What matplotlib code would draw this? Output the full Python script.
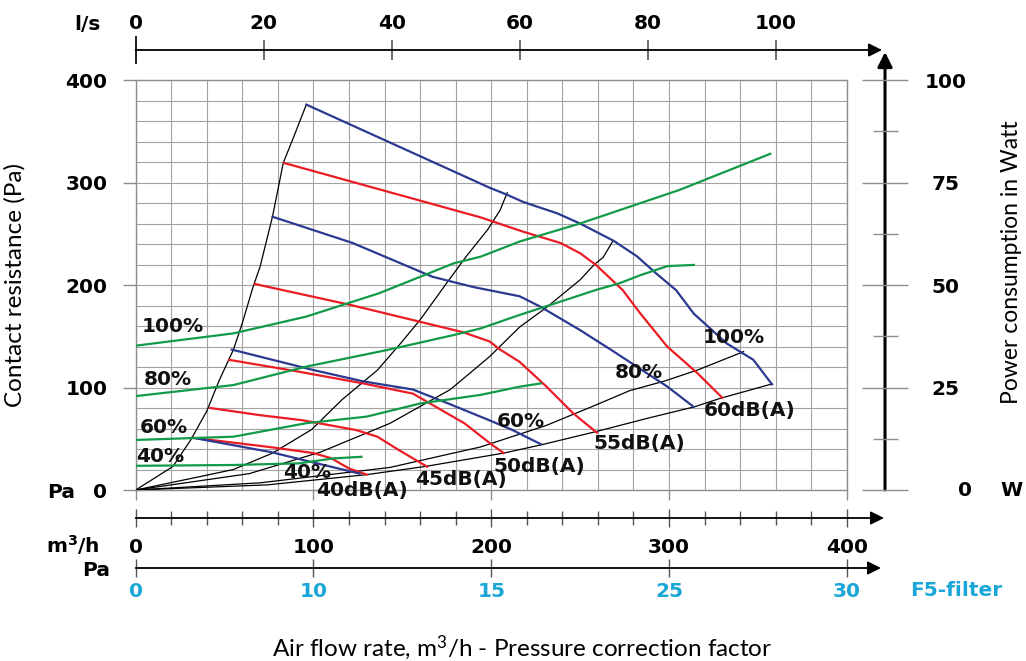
import numpy as np
import matplotlib
matplotlib.use("Agg")
import matplotlib.pyplot as plt
from matplotlib.ticker import FixedLocator

plt.rcParams['mathtext.default'] = 'regular'

# ---------------- data (x in m3/h, y in Pa, power in W) ----------------
# system curves (black)
s1_x = [0, 21, 31, 40, 47, 55, 60, 66, 70, 77, 83, 89, 96]
s1_y = [0, 23, 49, 77, 107, 137, 163, 198, 218, 267, 319, 345, 376]
s2_x = [0, 36, 55, 77, 99, 116, 136, 149, 160, 175, 186, 198, 205, 209]
s2_y = [0, 13, 20, 36, 59, 88, 117, 143, 166, 202, 228, 254, 273, 290]
s3_x = [0, 64, 104, 143, 177, 199, 216, 231, 250, 258, 263, 268.5]
s3_y = [0, 16, 37, 65, 98, 130, 159, 178, 205, 220, 227, 243]
s4_x = [0, 70, 143, 194, 231, 259, 278, 297, 316, 342]
s4_y = [0, 7, 22, 42, 63, 83, 97, 106, 117, 135]
s5_x = [0, 74, 130, 163, 207, 228, 259, 288, 314, 329, 358]
s5_y = [0, 5, 15, 23, 36, 44, 57, 70, 81, 89.5, 103.5]

# sound level curves (red)
r40_x = [32, 75, 100, 110, 120, 130]
r40_y = [51, 42, 36, 31, 21, 15]
r45_x = [42, 70, 94, 124, 136, 148, 164]
r45_y = [80, 73, 68, 58.5, 52, 39, 22.7]
r50_x = [52.5, 90, 128, 156, 175, 185, 199, 207]
r50_y = [127, 116, 104, 94, 75, 65, 46, 36]
r55_x = [67, 121, 184, 199, 205, 216, 231, 246, 259.4]
r55_y = [201, 180.5, 154, 145, 137, 125, 101, 75, 56]
r60_x = [83.6, 194, 218, 239, 250, 259, 274, 284, 299, 316, 330]
r60_y = [319, 266, 252, 241, 231, 219.5, 195, 172, 140, 114, 90]

# fan speed curves (blue)
b40_x = [32, 76, 102, 126]
b40_y = [51, 37, 26, 16]
b60_x = [54, 100, 128, 156, 175, 199, 212, 228]
b60_y = [137, 117, 106, 98, 85, 68, 58.5, 44.6]
b80_x = [77, 122, 167, 190, 216, 227.5, 250, 269, 287.5, 299, 314]
b80_y = [266.6, 241, 208, 198, 189, 179, 156, 135, 114, 101, 81]
b100_x = [96, 199, 209, 218, 237, 250, 269, 282, 293, 304, 314, 332.5, 347.5, 358]
b100_y = [376, 295, 288, 281, 270, 260, 243, 228, 211, 195, 172, 143, 127, 103]

# power consumption curves (green), W
g100_x = [0, 55, 96, 137, 179, 194, 216, 250, 306, 357]
g100_w = [35.2, 38.2, 42.3, 48, 55.3, 56.9, 60.6, 65, 73.2, 82]
g80_x = [0, 55, 96, 141, 179, 194, 216, 233, 259, 272, 284, 299, 314]
g80_w = [22.9, 25.6, 30.1, 34.1, 37.8, 39.4, 42.7, 45.1, 48.8, 50.4, 52.4, 54.6, 54.9]
g60_x = [0, 55, 96, 130, 160, 194, 216, 228]
g60_w = [12.2, 13.0, 16.3, 17.9, 21.1, 23.2, 25.2, 26.0]
g40_x = [0, 55, 92, 111, 127]
g40_w = [5.9, 6.1, 6.5, 7.7, 8.1]

# axis ticks / labels
pa_ticks = [0, 100, 200, 300, 400]
m3h_ticks = [0, 100, 200, 300, 400]
ls_ticks = [0, 20, 40, 60, 80, 100]
w_ticks = [0, 25, 50, 75, 100]
f5_labels = ['0', '10', '15', '25', '30']

# curve label texts (x, y in data units: m3/h, Pa)
pct_labels = [("100%", 3.5, 160), ("80%", 4.3, 108), ("60%", 2.4, 60.5), ("40%", 0.2, 33),
              ("40%", 82.7, 16.6), ("60%", 203, 67), ("80%", 269.5, 114.6), ("100%", 319, 148.3)]
db_labels = [("40dB(A)", 101.4, -0.5), ("45dB(A)", 157.1, 10.7), ("50dB(A)", 201.2, 23.4),
             ("55dB(A)", 257.4, 45.2), ("60dB(A)", 319.3, 78)]

# ---------------- layout ----------------
FW, FH = 1026, 661
X0, X1, Y0, Y1 = 135.7, 846.7, 490.0, 80.0
fig = plt.figure(figsize=(FW / 100, FH / 100), dpi=100)
ax = fig.add_axes([X0 / FW, (FH - Y0) / FH, (X1 - X0) / FW, (Y0 - Y1) / FH])

def fx(px):
    return (px - X0) / (X1 - X0)

def fy(py):
    return (Y0 - py) / (Y0 - Y1)

NUMFONT = dict(family='DejaVu Sans', weight='bold')
TXTFONT = 'Lato'
GRAY = '#8e8e8e'
CYAN = '#1aa6d6'
BLUE = '#2b3990'
RED = '#ec1c24'
GREEN = '#119a48'

ax.set_xlim(0, 400)
ax.set_ylim(0, 400)
ax.set_xticks(np.arange(0, 401, 20), minor=True)
ax.set_yticks(np.arange(0, 401, 20), minor=True)
ax.set_xticks(m3h_ticks)
ax.set_xticklabels([])
ax.set_yticks(pa_ticks)
ax.set_yticklabels([str(v) for v in pa_ticks], fontsize=14.5, **NUMFONT)
ax.grid(which='both', color='#a3a3a3', lw=0.8)
ax.tick_params(which='minor', length=0)
ax.tick_params(axis='y', which='major', length=9.4, color=GRAY, width=1, pad=11)
ax.tick_params(axis='x', which='major', length=7, color=GRAY, width=1)
for s in ax.spines.values():
    s.set_color(GRAY)
    s.set_linewidth(1)
ax.set_axisbelow(True)

# black system curves
for xs, ys in [(s1_x, s1_y), (s2_x, s2_y), (s3_x, s3_y), (s4_x, s4_y), (s5_x, s5_y)]:
    ax.plot(xs, ys, color='black', lw=0.9, zorder=3)

# green power curves on a watt-scaled twin
axw = ax.twinx()
axw.set_ylim(0, 100)
axw.axis('off')
for xs, ws in [(g100_x, g100_w), (g80_x, g80_w), (g60_x, g60_w), (g40_x, g40_w)]:
    axw.plot(xs, ws, color=GREEN, lw=1.6, zorder=3)

# red sound curves
for xs, ys in [(r40_x, r40_y), (r45_x, r45_y), (r50_x, r50_y), (r55_x, r55_y), (r60_x, r60_y)]:
    ax.plot(xs, ys, color=RED, lw=1.6, zorder=4)
# blue fan curves
for xs, ys in [(b40_x, b40_y), (b60_x, b60_y), (b80_x, b80_y), (b100_x, b100_y)]:
    ax.plot(xs, ys, color=BLUE, lw=1.6, zorder=4)

# labels drawn in the top-most axes so they sit over the lines
for t, x, y in pct_labels + db_labels:
    axw.text(x, y / 4, t, ha='left', va='center', fontsize=14.5, color='#111111',
             zorder=6, clip_on=False, **NUMFONT)

# ---------------- top l/s axis ----------------
top = ax.secondary_xaxis(fy(50), functions=(lambda m: m / 3.6, lambda l: l * 3.6))
top.xaxis.set_major_locator(FixedLocator(ls_ticks))
top.set_xticklabels([str(v) for v in ls_ticks], fontsize=14.5, **NUMFONT)
top.tick_params(axis='x', which='major', direction='inout', length=14.4, width=1.2,
                color='#555555', pad=5)
top.xaxis.remove_overlapping_locs = False
top.xaxis.set_minor_locator(FixedLocator([0]))
top.tick_params(axis='x', which='minor', direction='inout', length=20, width=1.4, color='#222222')
for s in top.spines.values():
    s.set_visible(False)

arrow = dict(arrowstyle='-|>', color='black', lw=1.3, mutation_scale=20, shrinkA=0, shrinkB=0)
ax.annotate('', xy=(fx(882), fy(50)), xytext=(fx(135.7), fy(50)),
            xycoords='axes fraction', textcoords='axes fraction', arrowprops=arrow)
fig.text(101 / FW, 1 - 24 / FH, 'l/s', ha='right', va='center', fontsize=14.5, **NUMFONT)

# ---------------- bottom m3/h axis ----------------
bot = ax.secondary_xaxis(fy(518))
bot.xaxis.set_major_locator(FixedLocator(m3h_ticks))
bot.xaxis.set_minor_locator(FixedLocator(list(np.arange(0, 401, 20))))
bot.set_xticklabels([str(v) for v in m3h_ticks], fontsize=14.5, **NUMFONT)
bot.tick_params(axis='x', which='major', direction='inout', length=12.5, width=1, color='#555555', pad=8)
bot.tick_params(axis='x', which='minor', direction='inout', length=9.5, width=1, color='#555555')
for s in bot.spines.values():
    s.set_visible(False)
ax.annotate('', xy=(fx(884), fy(518)), xytext=(fx(135.7), fy(518)),
            xycoords='axes fraction', textcoords='axes fraction', arrowprops=arrow)
fig.text(100 / FW, 1 - 545 / FH, 'm$^3$/h', ha='right', va='center', fontsize=14.5, **NUMFONT)
fig.text(75 / FW, 1 - 492 / FH, 'Pa', ha='right', va='center', fontsize=14.5, **NUMFONT)

# ---------------- bottom F5 filter Pa axis ----------------
f5 = ax.secondary_xaxis(fy(568))
f5.xaxis.set_major_locator(FixedLocator(m3h_ticks))
f5.set_xticklabels(f5_labels, fontsize=14.5, color=CYAN, **NUMFONT)
f5.tick_params(axis='x', which='major', direction='inout', length=12.5, width=1, color='#555555', pad=4)
f5.tick_params(axis='x', which='minor', length=0)
for s in f5.spines.values():
    s.set_visible(False)
ax.annotate('', xy=(fx(881), fy(568)), xytext=(fx(135.7), fy(568)),
            xycoords='axes fraction', textcoords='axes fraction', arrowprops=arrow)
fig.text(110 / FW, 1 - 570 / FH, 'Pa', ha='right', va='center', fontsize=14.5, **NUMFONT)
fig.text(910 / FW, 1 - 590 / FH, 'F5-filter', ha='left', va='center', fontsize=14.5,
         color=CYAN, **NUMFONT)

# ---------------- right power axis ----------------
rw = axw.secondary_yaxis(fx(885))
rw.yaxis.set_major_locator(FixedLocator(w_ticks))
rw.yaxis.set_minor_locator(FixedLocator([12.5, 37.5, 62.5, 87.5]))
rw.set_yticklabels([''] + [str(v) for v in w_ticks[1:]], fontsize=14.5, **NUMFONT)
rw.tick_params(axis='y', which='major', direction='inout', length=33, width=1, color=GRAY, pad=27)
rw.tick_params(axis='y', which='minor', direction='inout', length=18, width=1, color=GRAY)
for lbl in rw.get_yticklabels():
    lbl.set_horizontalalignment('center')
for s in rw.spines.values():
    s.set_visible(False)
arrow2 = dict(arrowstyle='-|>', color='black', lw=2.2, mutation_scale=22, shrinkA=0, shrinkB=0)
ax.annotate('', xy=(fx(885), fy(52)), xytext=(fx(885), fy(490)),
            xycoords='axes fraction', textcoords='axes fraction', arrowprops=arrow2)
fig.text(965 / FW, 1 - 490 / FH, '0', ha='center', va='center', fontsize=14.5, **NUMFONT)
fig.text(1000 / FW, 1 - 490 / FH, 'W', ha='left', va='center', fontsize=14.5, **NUMFONT)

# ---------------- axis titles ----------------
fig.text(522 / FW, 1 - 648 / FH, 'Air flow rate, m$^3$/h - Pressure correction factor',
         ha='center', va='center', fontsize=17.5, family=TXTFONT)
fig.text(15 / FW, 1 - 285 / FH, 'Contact resistance (Pa)', ha='center', va='center',
         rotation=90, fontsize=17.5, family=TXTFONT)
fig.text(1012 / FW, 1 - 262 / FH, 'Power consumption in Watt', ha='center', va='center',
         rotation=90, fontsize=16.5, family=TXTFONT)

fig.savefig('out.png', dpi=100)
